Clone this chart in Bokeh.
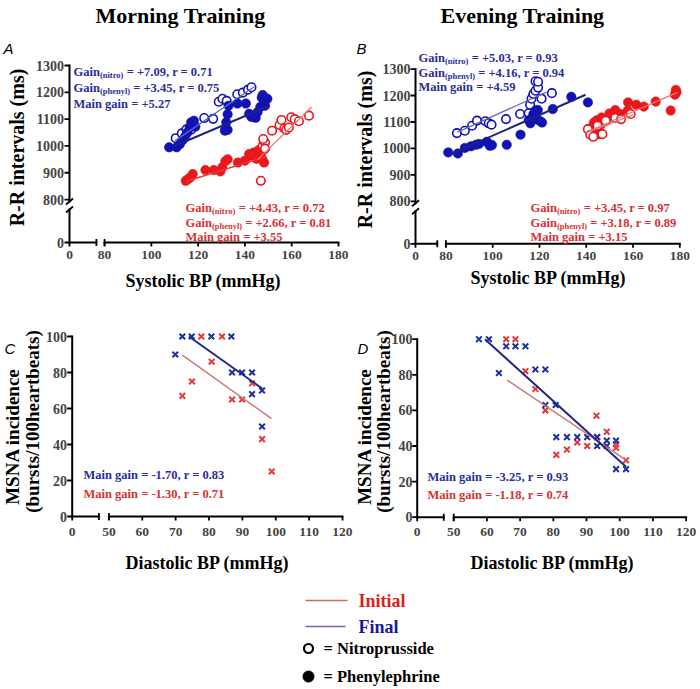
import math
from bokeh.plotting import figure
from bokeh.models import Range1d, Label
from bokeh.layouts import column, row
from bokeh.embed import file_html
from bokeh.resources import INLINE

# ======================= DATA =======================
# Panel A - Morning training: R-R interval (ms) vs systolic BP (mmHg)
a_fin_nitro_sbp = [110.4, 113.0, 115.0, 117.0, 118.2, 122.6, 126.4, 128.8, 130.4, 132.2, 136.7, 139.1, 141.3, 142.8]
a_fin_nitro_rr = [1029, 1047, 1062, 1061, 1078, 1104, 1101, 1165, 1176, 1168, 1193, 1199, 1210, 1219]
a_fin_phenyl_sbp = [107.6, 110.8, 112.2, 113.4, 114.4, 115.4, 116.4, 117.0, 118.2, 118.8, 131.4, 132.6, 132.0,
                    132.6, 133.0, 136.8, 140.4, 141.8, 142.8, 144.6, 145.4, 146.6, 147.6, 148.2, 149.6, 148.6, 147.2]
a_fin_phenyl_rr = [995, 995, 1007, 1022, 1035, 1050, 1068, 1088, 1094, 1072, 1057, 1060, 1088,
                   1118, 1150, 1158, 1158, 1120, 1108, 1105, 1126, 1146, 1190, 1168, 1176, 1150, 1180]
a_ini_phenyl_sbp = [114.7, 115.6, 116.6, 117.7, 123.1, 126.7, 129.5, 130.3, 131.6, 132.6, 137.0, 140.0,
                    141.8, 142.8, 143.8, 144.6, 145.6, 146.4, 147.4, 148.2, 146.0, 144.0, 147.0, 145.0]
a_ini_phenyl_rr = [870, 876, 882, 895, 910, 910, 905, 920, 943, 950, 938, 945,
                   970, 963, 976, 960, 970, 957, 951, 938, 985, 968, 975, 952]
a_ini_nitro_sbp = [146.8, 147.6, 148.6, 147.8, 148.6, 151.6, 154.8, 155.6, 156.8, 157.6, 158.8, 159.8, 161.3, 163.1, 167.4]
a_ini_nitro_rr = [870, 1001, 1013, 1026, 990, 1057, 1078, 1097, 1065, 1060, 1069, 1107, 1100, 1092, 1113]
# regression lines (end points)
a_fit_fin_nitro_sbp, a_fit_fin_nitro_rr = [110.0, 144.0], [1019, 1221]
a_fit_fin_phenyl_sbp, a_fit_fin_phenyl_rr = [109.4, 149.7], [998, 1147]
a_fit_ini_phenyl_sbp, a_fit_ini_phenyl_rr = [115.0, 149.0], [868, 960]
a_fit_ini_nitro_sbp, a_fit_ini_nitro_rr = [145.5, 168.5], [950, 1145]

# Panel B - Evening training: R-R interval (ms) vs systolic BP (mmHg)
b_fin_nitro_sbp = [84.7, 88.1, 91.2, 93.3, 96.9, 98.3, 99.5, 105.7, 111.7, 115.4, 116.0, 116.6, 117.4,
                   118.3, 119.4, 118.3, 119.4, 120.9, 125.3]
b_fin_nitro_rr = [1058, 1067, 1086, 1105, 1103, 1095, 1090, 1111, 1130, 1133, 1165, 1188, 1206,
                  1218, 1230, 1254, 1252, 1188, 1209]
b_fin_phenyl_sbp = [81.0, 85.1, 88.1, 90.7, 92.9, 94.1, 97.5, 98.8, 99.7, 106.0, 111.9, 115.4, 116.1, 117.1,
                    117.4, 118.3, 119.3, 117.9, 120.0, 121.1, 125.7, 133.6, 140.7]
b_fin_phenyl_rr = [985, 981, 1002, 1008, 1014, 1017, 1025, 1010, 1013, 1014, 1052, 1107, 1095, 1117,
                   1130, 1143, 1145, 1111, 1105, 1098, 1149, 1195, 1174]
b_ini_phenyl_sbp = [142.1, 142.8, 145.5, 143.9, 144.6, 146.2, 146.6, 148.6, 149.9, 152.4, 154.5, 157.9,
                    157.7, 161.4, 164.6, 169.7, 176.1, 177.9, 178.6, 178.3, 145.0, 141.5, 143.3]
b_ini_phenyl_rr = [1061, 1052, 1054, 1080, 1107, 1090, 1117, 1105, 1132, 1145, 1130, 1174,
                   1143, 1165, 1158, 1177, 1143, 1203, 1212, 1221, 1067, 1075, 1098]
b_ini_nitro_sbp = [140.7, 141.7, 143.0, 146.9, 144.8, 148.3, 152.4, 154.9, 159.0]
b_ini_nitro_rr = [1073, 1052, 1044, 1054, 1086, 1105, 1115, 1111, 1130]
b_fit_fin_phenyl_sbp, b_fit_fin_phenyl_rr = [81.4, 139.7], [976, 1203]
b_fit_fin_nitro_sbp, b_fit_fin_nitro_rr = [85.0, 123.0], [1062, 1213]
b_fit_ini_phenyl_sbp, b_fit_ini_phenyl_rr = [141.0, 179.0], [1065, 1212]
b_fit_ini_nitro_sbp, b_fit_ini_nitro_rr = [140.0, 160.0], [1060, 1127]

# Panel C - Morning training: MSNA incidence vs diastolic BP
c_fin_dbp = [72.0, 74.8, 80.7, 86.7, 69.9, 86.9, 89.9, 92.9, 92.9, 95.9, 95.9]
c_fin_msna = [100, 100, 100, 100, 90, 80, 80, 80, 68, 70, 50]
c_ini_dbp = [77.7, 83.9, 80.8, 74.9, 72.0, 86.9, 89.9, 92.9, 95.9, 98.8]
c_ini_msna = [100, 100, 86, 75, 67, 65, 65, 74, 43, 25]
c_fit_fin_dbp, c_fit_fin_msna = [74.0, 96.0], [100.0, 71.0]
c_fit_ini_dbp, c_fit_ini_msna = [72.0, 98.7], [89.6, 54.4]

# Panel D - Evening training: MSNA incidence vs diastolic BP
d_fin_dbp = [57.6, 60.6, 65.8, 68.6, 71.6, 63.6, 74.6, 77.6, 77.6, 80.7, 80.9, 84.1, 87.2, 90.2, 93.2,
             93.2, 96.1, 96.1, 98.9, 98.9, 101.9]
d_fin_msna = [100, 100, 96, 96, 96, 81, 83, 83, 63, 63, 45, 45, 45, 45, 45, 40, 43, 40, 43, 27, 27]
d_ini_dbp = [65.8, 68.6, 71.6, 74.6, 77.6, 93.0, 80.9, 84.1, 87.2, 90.2, 93.2, 96.1, 98.9, 98.9, 101.9]
d_ini_msna = [100, 100, 82, 72, 60, 57, 35, 38, 42, 40, 45, 48, 39, 41, 32]
d_fit_fin_dbp, d_fit_fin_msna = [59.4, 101.9], [100.0, 28.4]
d_fit_ini_dbp, d_fit_ini_msna = [66.1, 101.9], [77.0, 32.1]

# tick labels
rr_ticks = [800, 900, 1000, 1100, 1200, 1300]
sbp_ticks = [80, 100, 120, 140, 160, 180]
msna_ticks = [0, 20, 40, 60, 80, 100]
dbp_ticks = [50, 60, 70, 80, 90, 100, 110, 120]

# annotation texts
a_fin_text = [("Gain", "(nitro)", " = +7.09, r = 0.71"), ("Gain", "(phenyl)", " = +3.45, r = 0.75"), ("Main gain = +5.27",)]
a_ini_text = [("Gain", "(nitro)", " = +4.43, r = 0.72"), ("Gain", "(phenyl)", " = +2.66, r = 0.81"), ("Main gain = +3.55",)]
b_fin_text = [("Gain", "(nitro)", " = +5.03, r = 0.93"), ("Gain", "(phenyl)", " = +4.16, r = 0.94"), ("Main gain = +4.59",)]
b_ini_text = [("Gain", "(nitro)", " = +3.45, r = 0.97"), ("Gain", "(phenyl)", " = +3.18, r = 0.89"), ("Main gain = +3.15",)]
c_fin_text = "Main gain = -1.70, r = 0.83"
c_ini_text = "Main gain = -1.30, r = 0.71"
d_fin_text = "Main gain = -3.25, r = 0.93"
d_ini_text = "Main gain = -1.18, r = 0.74"
titles = ["Morning Training", "Evening Training"]
letters = ["A", "B", "C", "D"]

# ======================= STYLE =======================
SERIF = "Liberation Serif"
SANS = "Liberation Sans"
BLUE_PT = "#1212B4"
RED_PT = "#E8181C"
BLUE_TXT = "#2B2E9C"
RED_TXT = "#D83232"
BLUE_THICK = "#1B2580"
BLUE_THIN = "#6468B8"
RED_THICK = "#E23A3A"
RED_THIN = "#E27A7A"
CD_BLUE_LINE = "#1E2A88"
CD_RED_LINE = "#C97B7B"
CD_BLUE_X = "#1F2F9E"
CD_RED_X = "#E03A3A"

# Times/Liberation Serif Bold advance widths (per 1000 em) for composing sub-scripted text
W = {" ": 250, "(": 333, ")": 333, "+": 570, ",": 250, "-": 333, ".": 250, "/": 278, "=": 570,
     "A": 722, "B": 667, "G": 778, "M": 944, "N": 722, "P": 611, "S": 556,
     "a": 500, "b": 556, "c": 444, "d": 556, "e": 444, "g": 500, "h": 556, "i": 278, "l": 278,
     "m": 833, "n": 556, "o": 500, "p": 556, "r": 444, "s": 389, "t": 333, "u": 556, "y": 500}


def tw(s, size):
    return sum(W.get(c, 500) for c in s) / 1000.0 * size


class Geo:
    """page pixel <-> data mapping of one panel"""
    def __init__(self, px0, x0, sx, py0, y0, sy):
        self.px0, self.x0, self.sx, self.py0, self.y0, self.sy = px0, x0, sx, py0, y0, sy

    def X(self, px):
        return self.x0 + (px - self.px0) / self.sx

    def Y(self, py):
        return self.y0 + (self.py0 - py) / self.sy


def make_fig(G, box):
    bx0, by0, bx1, by1 = box
    p = figure(width=bx1 - bx0, height=by1 - by0, output_backend="svg", toolbar_location=None,
               x_range=Range1d(G.X(bx0), G.X(bx1)), y_range=Range1d(G.Y(by1), G.Y(by0)),
               x_axis_type=None, y_axis_type=None,
               min_border=0, min_border_left=0, min_border_right=0, min_border_top=0, min_border_bottom=0)
    p.outline_line_color = None
    p.grid.visible = False
    p.background_fill_color = "white"
    p.border_fill_color = "white"
    return p


def lab(p, G, px, py, text, size, color="black", align="left", baseline="middle", angle=0.0,
        font=SERIF, style="bold"):
    p.add_layout(Label(x=G.X(px), y=G.Y(py), text=text, angle=angle, text_font=font,
                       text_font_style=style, text_font_size=f"{size}px", text_color=color,
                       text_align=align, text_baseline=baseline))


def draw_axes(p, G, xsegs, ysegs, xt, xlab, yt, ylab, xbars, yslashes, xlab_py, ylab_px):
    ax = dict(line_color="black", line_width=2)
    p.segment(x0=[s for s, e in xsegs], y0=[G.y0] * len(xsegs), x1=[e for s, e in xsegs],
              y1=[G.y0] * len(xsegs), line_cap="square", **ax)
    p.segment(x0=[G.x0] * len(ysegs), y0=[s for s, e in ysegs], x1=[G.x0] * len(ysegs),
              y1=[e for s, e in ysegs], line_cap="square", **ax)
    tdx, tdy = 5 / G.sx, 4 / G.sy
    p.segment(x0=xt, y0=[G.y0] * len(xt), x1=xt, y1=[G.y0 - tdy] * len(xt), line_color="black", line_width=1.8)
    p.segment(x0=[G.x0 - tdx] * len(yt), y0=yt, x1=[G.x0] * len(yt), y1=yt, line_color="black", line_width=1.8)
    bdy = 3.5 / G.sy
    p.segment(x0=xbars, y0=[G.y0 - bdy] * len(xbars), x1=xbars, y1=[G.y0 + bdy] * len(xbars),
              line_color="black", line_width=1.8)
    if yslashes:
        sdx, sdy = 3.5 / G.sx, 3.0 / G.sy
        p.segment(x0=[G.x0 - sdx] * len(yslashes), y0=[v - sdy for v in yslashes],
                  x1=[G.x0 + sdx] * len(yslashes), y1=[v + sdy for v in yslashes],
                  line_color="black", line_width=1.8)
    # tick labels
    for v, t in zip(xt, xlab):
        p.add_layout(Label(x=v, y=G.Y(xlab_py), text=t, text_font=SERIF, text_font_style="bold",
                           text_font_size="13.5px", text_align="center", text_baseline="middle"))
    for v, t in zip(yt, ylab):
        p.add_layout(Label(x=G.X(ylab_px), y=v, text=t, text_font=SERIF, text_font_style="bold",
                           text_font_size="14px", text_align="right", text_baseline="middle"))


def rich(p, G, left_px, mid_py, parts, color, size=12.5, sub=8.5):
    """compose 'Gain' + subscript + rest as consecutive labels"""
    x = left_px
    base = mid_py + 0.34 * size
    for i, txt in enumerate(parts):
        is_sub = (len(parts) == 3 and i == 1)
        fs = sub if is_sub else size
        by = base + (3.0 if is_sub else 0.0)
        if txt.startswith(" "):
            x += tw(" ", fs)
            txt = txt[1:]
        lab(p, G, x, by, txt, fs, color=color, baseline="alphabetic")
        x += tw(txt, fs)


def open_pts(p, xs, ys, color):
    p.scatter(xs, ys, marker="circle", size=8.5, fill_color="white", line_color=color, line_width=1.6)


def filled_pts(p, xs, ys, color):
    p.scatter(xs, ys, marker="circle", size=9.5, fill_color=color, line_color=color, line_width=0.5)


def cross_pts(p, xs, ys, color):
    p.scatter(xs, ys, marker="x", size=8, line_color=color, line_width=2)


def lbl(ticks):
    return [str(v) for v in ticks]


# ======================= PANEL A =======================
GA = Geo(px0=69, x0=65, sx=2.339, py0=242, y0=640, sy=0.26818)
pA = make_fig(GA, (0, 0, 354, 308))
draw_axes(pA, GA, [(65, 76.5), (80, 180)], [(640, 763), (793, 1300)],
          [65] + sbp_ticks, ["0"] + lbl(sbp_ticks), [640] + rr_ticks, ["0"] + lbl(rr_ticks),
          [76.5, 80], [763, 793], 254, 63.5)
open_pts(pA, a_fin_nitro_sbp, a_fin_nitro_rr, BLUE_PT)
filled_pts(pA, a_fin_phenyl_sbp, a_fin_phenyl_rr, BLUE_PT)
filled_pts(pA, a_ini_phenyl_sbp, a_ini_phenyl_rr, RED_PT)
open_pts(pA, a_ini_nitro_sbp, a_ini_nitro_rr, RED_PT)
pA.line(a_fit_fin_nitro_sbp, a_fit_fin_nitro_rr, line_color=BLUE_THIN, line_width=1.3)
pA.line(a_fit_fin_phenyl_sbp, a_fit_fin_phenyl_rr, line_color=BLUE_THICK, line_width=2)
pA.line(a_fit_ini_phenyl_sbp, a_fit_ini_phenyl_rr, line_color=RED_THICK, line_width=1.6)
pA.line(a_fit_ini_nitro_sbp, a_fit_ini_nitro_rr, line_color=RED_THIN, line_width=1.3)
for parts, py in zip(a_fin_text, [67, 83.5, 99]):
    rich(pA, GA, 73, py, parts, BLUE_TXT)
for parts, py in zip(a_ini_text, [203, 218, 232]):
    rich(pA, GA, 185, py, parts, RED_TXT)
lab(pA, GA, 180, 15, titles[0], 22, align="center")
lab(pA, GA, 3, 48, letters[0], 15, font=SANS, style="italic")
lab(pA, GA, 16, 147, "R-R intervals (ms)", 20, align="center", angle=math.pi / 2)
lab(pA, GA, 203, 280, "Systolic BP (mmHg)", 18, align="center")

# ======================= PANEL B =======================
GB = Geo(px0=415, x0=67, sx=2.339, py0=243.3, y0=640, sy=0.2648)
pB = make_fig(GB, (354, 0, 700, 308))
draw_axes(pB, GB, [(67, 76.3), (80, 180)], [(640, 763), (793, 1300)],
          [67] + sbp_ticks, ["0"] + lbl(sbp_ticks), [640] + rr_ticks, ["0"] + lbl(rr_ticks),
          [76.3, 80], [763, 793], 255, 410)
open_pts(pB, b_fin_nitro_sbp, b_fin_nitro_rr, BLUE_PT)
filled_pts(pB, b_fin_phenyl_sbp, b_fin_phenyl_rr, BLUE_PT)
filled_pts(pB, b_ini_phenyl_sbp, b_ini_phenyl_rr, RED_PT)
open_pts(pB, b_ini_nitro_sbp, b_ini_nitro_rr, RED_PT)
pB.line(b_fit_fin_nitro_sbp, b_fit_fin_nitro_rr, line_color=BLUE_THIN, line_width=1.3)
pB.line(b_fit_fin_phenyl_sbp, b_fit_fin_phenyl_rr, line_color=BLUE_THICK, line_width=2)
pB.line(b_fit_ini_phenyl_sbp, b_fit_ini_phenyl_rr, line_color=RED_THIN, line_width=1.3)
pB.line(b_fit_ini_nitro_sbp, b_fit_ini_nitro_rr, line_color=RED_THIN, line_width=1.3)
for parts, py in zip(b_fin_text, [53.5, 68, 82.5]):
    rich(pB, GB, 418, py, parts, BLUE_TXT)
for parts, py in zip(b_ini_text, [203.5, 218, 232]):
    rich(pB, GB, 530, py, parts, RED_TXT)
lab(pB, GB, 522, 15, titles[1], 22, align="center")
lab(pB, GB, 356, 48, letters[1], 15, font=SANS, style="italic")
lab(pB, GB, 364, 149, "R-R intervals (ms)", 20, align="center", angle=math.pi / 2)
lab(pB, GB, 548, 277, "Systolic BP (mmHg)", 18, align="center")

# ======================= PANEL C =======================
GC = Geo(px0=71.7, x0=39, sx=3.337, py0=516, y0=0, sy=1.8)
pC = make_fig(GC, (0, 308, 353, 588))
draw_axes(pC, GC, [(39, 47), (50, 120)], [(0, 100)],
          [39] + dbp_ticks, ["0"] + lbl(dbp_ticks), msna_ticks, lbl(msna_ticks),
          [47, 50], [], 531, 66.5)
cross_pts(pC, c_ini_dbp, c_ini_msna, CD_RED_X)
cross_pts(pC, c_fin_dbp, c_fin_msna, CD_BLUE_X)
pC.line(c_fit_ini_dbp, c_fit_ini_msna, line_color=CD_RED_LINE, line_width=1.5)
pC.line(c_fit_fin_dbp, c_fit_fin_msna, line_color=CD_BLUE_LINE, line_width=2)
lab(pC, GC, 83, 474, c_fin_text, 12.5, color=BLUE_TXT)
lab(pC, GC, 83, 493, c_ini_text, 12.5, color=RED_TXT)
lab(pC, GC, 4, 348, letters[2], 15, font=SANS, style="italic")
lab(pC, GC, 12, 436, "MSNA incidence", 19, align="center", angle=math.pi / 2)
lab(pC, GC, 32, 421, "(bursts/100heartbeats)", 19, align="center", angle=math.pi / 2)
lab(pC, GC, 207, 562, "Diastolic BP (mmHg)", 18, align="center")

# ======================= PANEL D =======================
GD = Geo(px0=416.7, x0=39, sx=3.32, py0=516.7, y0=0, sy=1.78)
pD = make_fig(GD, (353, 308, 700, 588))
draw_axes(pD, GD, [(39, 47), (50, 120)], [(0, 100)],
          [39] + dbp_ticks, ["0"] + lbl(dbp_ticks), msna_ticks, lbl(msna_ticks),
          [47, 50], [], 531, 412)
cross_pts(pD, d_ini_dbp, d_ini_msna, CD_RED_X)
cross_pts(pD, d_fin_dbp, d_fin_msna, CD_BLUE_X)
pD.line(d_fit_ini_dbp, d_fit_ini_msna, line_color=CD_RED_LINE, line_width=1.5)
pD.line(d_fit_fin_dbp, d_fit_fin_msna, line_color=CD_BLUE_LINE, line_width=2)
lab(pD, GD, 427, 476, d_fin_text, 12.5, color=BLUE_TXT)
lab(pD, GD, 427, 494.5, d_ini_text, 12.5, color=RED_TXT)
lab(pD, GD, 357, 348, letters[3], 15, font=SANS, style="italic")
lab(pD, GD, 364, 436, "MSNA incidence", 19, align="center", angle=math.pi / 2)
lab(pD, GD, 383, 421, "(bursts/100heartbeats)", 19, align="center", angle=math.pi / 2)
lab(pD, GD, 552, 562, "Diastolic BP (mmHg)", 18, align="center")

# ======================= LEGEND =======================
GL = Geo(px0=0, x0=0, sx=1, py0=0, y0=0, sy=-1)
pL = make_fig(GL, (0, 588, 700, 688))
pL.line([305, 347], [600, 600], line_color="#E06464", line_width=1.6)
pL.line([305, 345], [626, 626], line_color="#6A6AB8", line_width=1.6)
pL.scatter([308], [648], marker="circle", size=9, fill_color="white", line_color="black", line_width=2.2)
pL.scatter([308], [676], marker="circle", size=11, fill_color="black", line_color="black")
lab(pL, GL, 358, 600, "Initial", 18, color="#E01E1E")
lab(pL, GL, 358, 626, "Final", 18, color="#1A1A96")
lab(pL, GL, 323, 648, "= Nitroprusside", 16.5)
lab(pL, GL, 323, 676, "= Phenylephrine", 16.5)

layout = column(row(pA, pB), row(pC, pD), pL)
open("out.html", "w").write(file_html(layout, INLINE))
